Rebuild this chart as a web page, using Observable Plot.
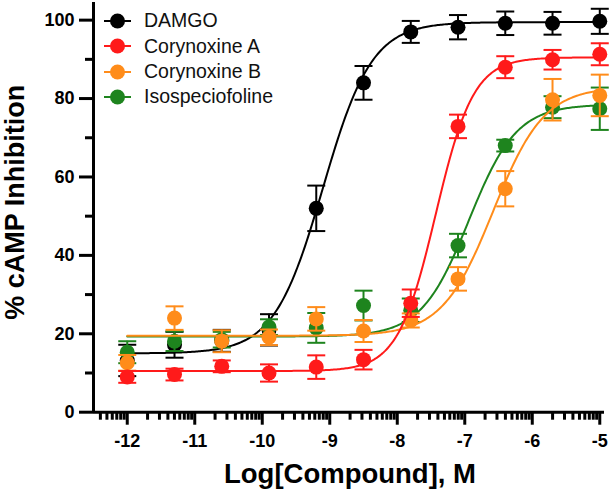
<!DOCTYPE html>
<html><head><meta charset="utf-8">
<script src="https://cdn.jsdelivr.net/npm/d3@7"></script>
<script src="https://cdn.jsdelivr.net/npm/@observablehq/plot@0.6"></script>
<style>
body{margin:0;background:#fff;font-family:"Liberation Sans",Arial,sans-serif}
#wrap{position:relative;width:612px;height:495px;overflow:hidden}
#legend{position:absolute;left:0;top:0}
.row{position:absolute;left:100px;height:26px;display:flex;align-items:center;font-size:19.5px;color:#111;white-space:nowrap}
.row svg{margin-right:10px}
</style>
</head><body><div id="wrap"><div id="chart"></div><div id="legend"></div></div>
<script>
// ---- data ----
const logConc = [-12, -11.3, -10.6, -9.9, -9.2, -8.5, -7.8, -7.1, -6.4, -5.7, -5];
const seriesNames = ["DAMGO", "Corynoxine A", "Corynoxine B", "Isospeciofoline"];
const seriesColors = ["#000000", "#ff1a1a", "#ff8c1a", "#1e841e"];
const damgo    = [13.2, 17.2, 18.2, 21.0, 52.0, 84.0, 97.0, 98.2, 99.2, 99.2, 99.7];
const damgoErr = [4.0, 3.3, 2.8, 4.0, 5.8, 4.3, 2.8, 3.1, 3.0, 2.9, 3.2];
const corA     = [9.0, 9.6, 11.7, 10.0, 11.5, 13.4, 27.8, 72.9, 88.0, 89.9, 91.3];
const corAErr  = [1.5, 1.5, 1.5, 2.2, 3.0, 2.5, 3.5, 3.0, 2.8, 2.5, 2.8];
const corB     = [12.6, 24.0, 18.1, 19.1, 23.8, 20.7, 23.4, 34.0, 57.0, 79.7, 80.8];
const corBErr  = [2.0, 3.0, 2.8, 2.0, 3.0, 2.8, 1.8, 3.0, 4.5, 5.3, 5.3];
const iso      = [15.3, 18.1, 18.5, 21.7, 21.5, 27.2, 26.0, 42.5, 68.0, 77.8, 77.4];
const isoErr   = [2.8, 2.5, 2.0, 2.0, 3.8, 3.8, 3.0, 3.0, 1.5, 2.8, 5.4];
// four-parameter logistic fit parameters (per series, same order as names)
const fitBottom  = [15.0, 10.5, 19.5, 19.3];
const fitTop     = [99.5, 90.5, 83.0, 78.5];
const fitLogEC50 = [-9.1, -7.43, -6.58, -6.94];
const fitHill    = [1.2, 1.55, 1.15, 1.23];
const xTicks = [-12, -11, -10, -9, -8, -7, -6, -5];
const yTicks = [0, 20, 40, 60, 80, 100];
const yMinorTicks = [10, 30, 50, 70, 90];
const xDomain = [-12.5, -4.93];
const yDomain = [0, 104.5];

// ---- build tables ----
const values = [damgo, corA, corB, iso];
const errs = [damgoErr, corAErr, corBErr, isoErr];
const drawOrder = [0, 3, 2, 1];
const xMinorTicks = [];
for (let d = -13; d < -5; d++) for (let k = 2; k <= 9; k++) {
  const v = d + Math.log10(k);
  if (v > xDomain[0] && v < xDomain[1]) xMinorTicks.push(v);
}
const curveXs = d3.range(logConc[0], logConc[logConc.length - 1] + 1e-9, 0.02);
const capSymbol = {draw(ctx, size) { const w = Math.sqrt(size / Math.PI); ctx.moveTo(-w, 0); ctx.lineTo(w, 0); }};

const marks = [];
for (const s of drawOrder) {
  const color = seriesColors[s];
  const rows = logConc.map((x, i) => ({x, y: values[s][i], lo: values[s][i] - errs[s][i], hi: values[s][i] + errs[s][i]}));
  const fit = curveXs.map(x => ({x, y: fitBottom[s] + (fitTop[s] - fitBottom[s]) / (1 + Math.pow(10, (fitLogEC50[s] - x) * fitHill[s]))}));
  marks.push(Plot.line(fit, {x: "x", y: "y", stroke: color, strokeWidth: 2}));
  marks.push(Plot.ruleX(rows, {x: "x", y1: "lo", y2: "hi", stroke: color, strokeWidth: 2}));
  marks.push(Plot.dot(rows, {x: "x", y: "lo", symbol: capSymbol, r: 9, stroke: color, strokeWidth: 2, fill: "none"}));
  marks.push(Plot.dot(rows, {x: "x", y: "hi", symbol: capSymbol, r: 9, stroke: color, strokeWidth: 2, fill: "none"}));
  marks.push(Plot.dot(rows, {x: "x", y: "y", r: 7.5, fill: color, stroke: "none"}));
}

const fmt = d => (d < 0 ? "-" + (-d) : String(d));
const chart = Plot.plot({
  width: 612, height: 495,
  marginLeft: 93, marginRight: 8, marginTop: 2, marginBottom: 83.3,
  style: {fontFamily: '"Liberation Sans", Arial, sans-serif', background: "#fff", color: "#000"},
  x: {domain: xDomain, axis: null},
  y: {domain: yDomain, axis: null},
  marks: [
    Plot.axisY({ticks: yMinorTicks, tickSize: 8, strokeWidth: 3, text: null, label: null}),
    Plot.axisY({ticks: yTicks, tickSize: 14, tickPadding: 5, strokeWidth: 3, fontSize: 18, fontWeight: "bold", tickFormat: fmt, label: null}),
    Plot.axisX({ticks: xMinorTicks, tickSize: 8, strokeWidth: 3, text: null, label: null}),
    Plot.axisX({ticks: xTicks, tickSize: 13, tickPadding: 9, strokeWidth: 3, fontSize: 18, fontWeight: "bold", tickFormat: fmt, label: null}),
    Plot.ruleY([yDomain[0]], {x1: xDomain[0], x2: xDomain[1], strokeWidth: 3}),
    Plot.ruleX([xDomain[0]], {y1: yDomain[0], y2: yDomain[1], strokeWidth: 3}),
    ...marks,
    Plot.text(["% cAMP Inhibition"], {frameAnchor: "left", textAnchor: "middle", rotate: -90, dx: -78, dy: -5, fontSize: 27, fontWeight: "bold", lineAnchor: "middle"}),
    Plot.text(["Log[Compound], M"], {frameAnchor: "bottom", textAnchor: "middle", dx: 1, dy: 62, fontSize: 27.5, fontWeight: "bold", lineAnchor: "middle"})
  ]
});
document.getElementById("chart").appendChild(chart);

// ---- legend ----
const legend = document.getElementById("legend");
const rowY = [20.7, 46.1, 71.5, 96.9];
seriesNames.forEach((name, i) => {
  const row = document.createElement("div");
  row.className = "row";
  row.style.top = (rowY[i] - 13) + "px";
  row.innerHTML = `<svg width="34" height="18" viewBox="0 0 34 18"><line x1="4" x2="31" y1="9" y2="9" stroke="${seriesColors[i]}" stroke-width="2"/><circle cx="17.5" cy="9" r="7.5" fill="${seriesColors[i]}"/></svg><span>${name}</span>`;
  legend.appendChild(row);
});
</script></body></html>
